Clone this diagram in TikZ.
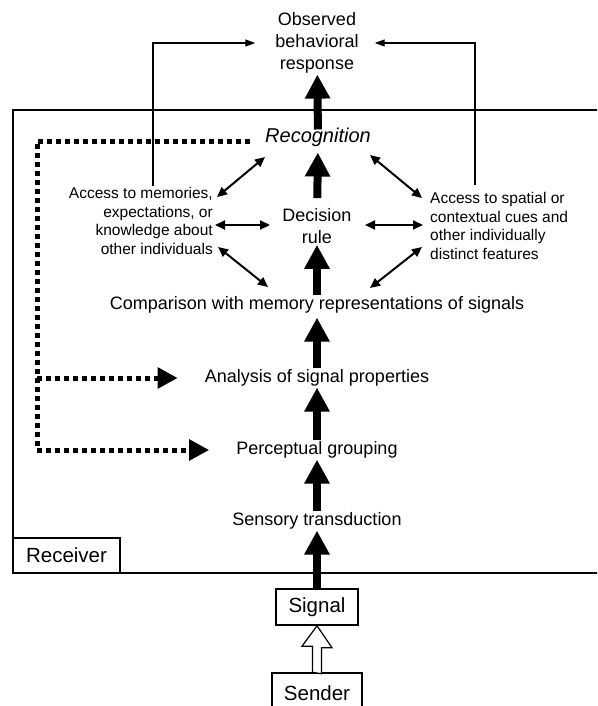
\documentclass[tikz,border=0pt]{standalone}
\usepackage{fontspec}
\setmainfont{Liberation Sans}
\usetikzlibrary{arrows.meta}

\begin{document}
\begin{tikzpicture}[x=1pt, y=-1pt,
    stage/.style={inner sep=1pt, align=center, font=\fontsize{18}{22}\selectfont},
    side/.style={inner sep=1pt, font=\fontsize{15.5}{18.5}\selectfont},
    box/.style={draw, line width=1.5pt, inner sep=0pt, font=\fontsize{20.5}{24}\selectfont},
    flow/.style={line width=8pt, -{Triangle[width=24pt,length=24pt]}},
    link/.style={line width=2pt, {Triangle[width=9pt,length=10pt]}-{Triangle[width=9pt,length=10pt]}},
    route/.style={line width=1.3pt, -{Triangle[width=7pt,length=10pt]}},
    feedback/.style={line width=5pt, dash pattern=on 5pt off 4pt, -{Triangle[width=20pt,length=20pt]}}]
    \useasboundingbox (0,0) rectangle (597,706);
    \clip (0,0) rectangle (597,706);

    % receiver frame
    \draw[line width=1.5pt] (600,110) -| (13,573) -- (600,573);

    \node[stage] (obs) at (317,43) {Observed\\behavioral\\response};
    \node[stage, font=\fontsize{20}{24}\selectfont\itshape] (recog) at (318,137) {Recognition};
    \node[stage] (dec) at (317,226) {Decision\\rule};
    \node[stage] (comp) at (317,305) {Comparison with memory representations of signals};
    \node[stage] (anal) at (317,378) {Analysis of signal properties};
    \node[stage] (group) at (317,450) {Perceptual grouping};
    \node[stage] (sense) at (317,521) {Sensory transduction};
    \node[side, align=right, anchor=east] (mem) at (214,221)
        {Access to memories,\\expectations, or\\knowledge about\\other individuals};
    \node[side, align=left, anchor=west] (spat) at (429,226)
        {Access to spatial or\\contextual cues and\\other individually\\distinct features};
    \node[box, minimum width=107pt, minimum height=35pt] (recv) at (66.5,555.5) {Receiver};
    \node[box, minimum width=82pt, minimum height=36pt] (signal) at (317,607) {Signal};
    \node[box, minimum width=90pt, minimum height=40pt] (sender) at (317,693) {Sender};
    \coordinate (fb) at (37,0);

    % main pathway
    \draw[flow] (signal) -- (sense);
    \draw[flow] (sense) -- (group);
    \draw[flow] (group) -- (anal);
    \draw[flow, shorten >=3pt] (anal) -- (comp);
    \draw[flow] (comp) -- (dec);
    \draw[flow, shorten <=9pt, shorten >=5pt] (dec) -- (recog);
    \draw[flow, shorten <=-3pt] (recog) -- (obs);

    % sender to signal
    \draw[line width=1.2pt, fill=white] ([xshift=-4.5pt]sender.north) -- ++(0,-26) -- ++(-10.5,0)
        -- (signal.south) -- ++(15,22) -- ++(-10.5,0) -- ++(0,26) -- cycle;

    % side information
    \draw[link] ([shift={(3,-24)}]mem.east) -- ([shift={(-53,20)}]recog.center);
    \draw[link] ([shift={(1,4)}]mem.east) -- ([shift={(-47,-1)}]dec.center);
    \draw[link] ([shift={(4,26)}]mem.east) -- ([shift={(-49,-18)}]comp.center);
    \draw[link] ([shift={(-7,-28)}]spat.west) -- ([shift={(52,18)}]recog.center);
    \draw[link] ([shift={(-6,-1)}]spat.west) -- ([shift={(48,-1)}]dec.center);
    \draw[link] ([shift={(-7,21)}]spat.west) -- ([shift={(53,-17)}]comp.center);

    \draw[route, shorten >=19pt] ([xshift=12pt]mem.north) |- (obs.west);
    \draw[route, shorten >=15pt] ([shift={(-24,-6)}]spat.north) |- (obs.east);

    % feedback
    \draw[feedback, shorten <=14pt, shorten >=26pt] ([yshift=-4pt]recog.west) -- ([yshift=-4pt]recog.west -| fb)
        -- (group.west -| fb) -- (group.west);
    \draw[feedback, shorten >=26pt] (anal.west -| fb) -- (anal.west);
\end{tikzpicture}
\end{document}
